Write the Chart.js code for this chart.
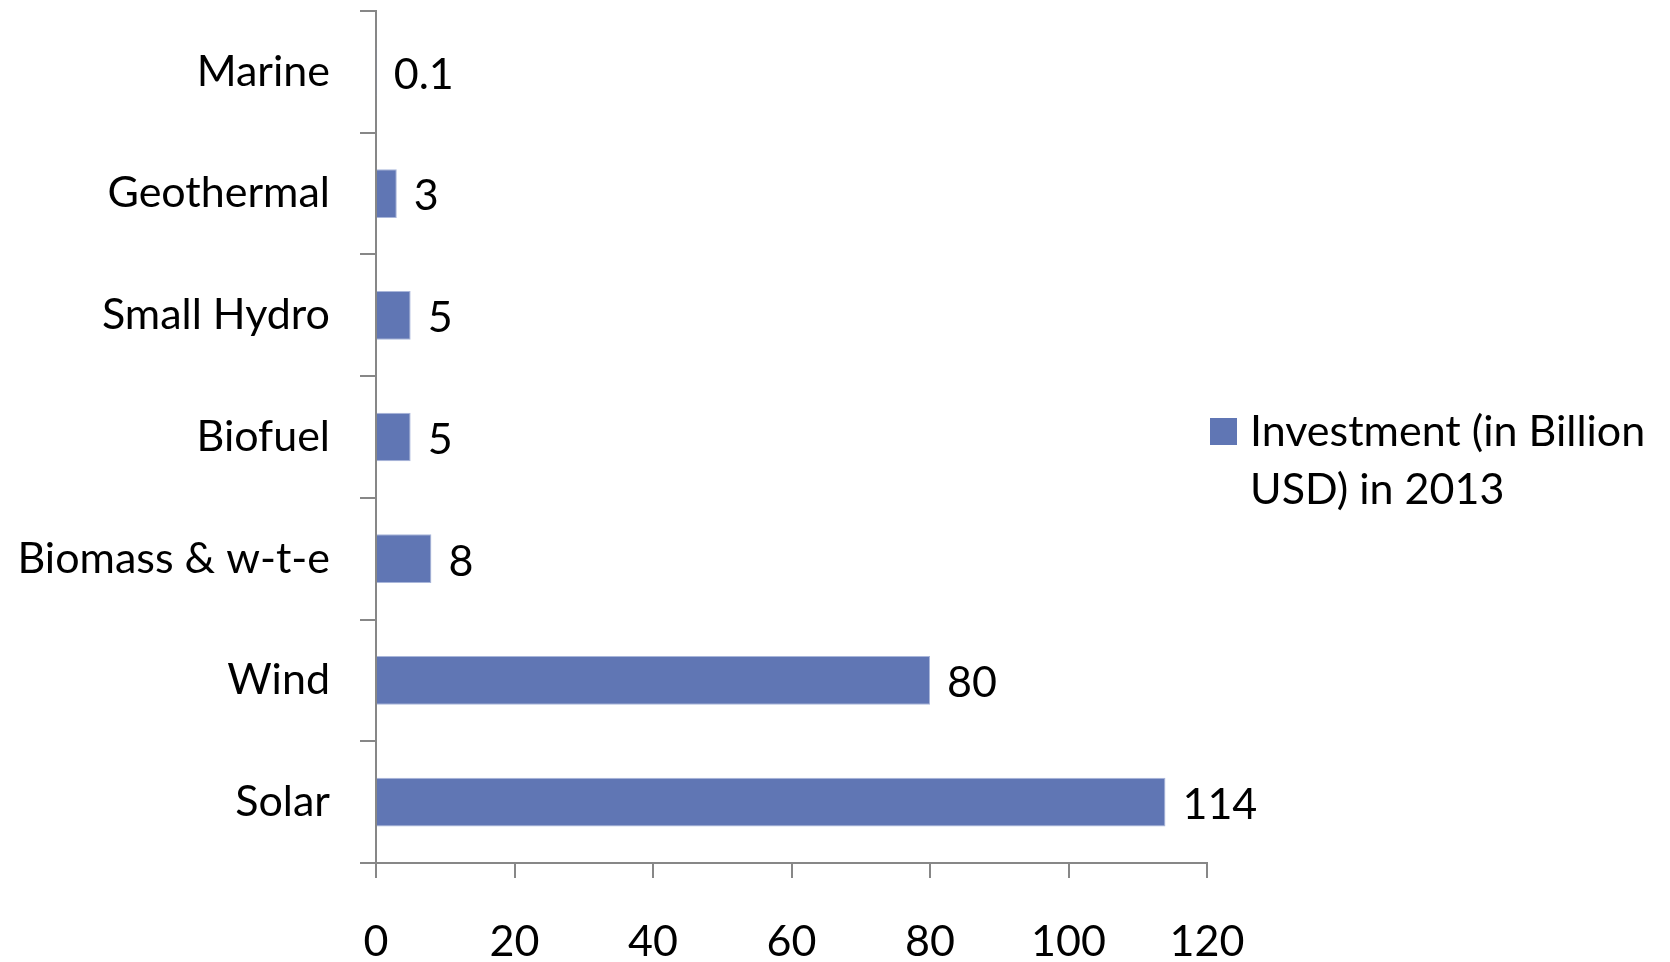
<!DOCTYPE html>
<html>
<head>
<meta charset="utf-8">
<script src="https://cdn.jsdelivr.net/npm/chart.js@4"></script>
<style>
  html, body { margin: 0; padding: 0; }
  body {
    width: 1670px; height: 962px; overflow: hidden; position: relative;
    background: radial-gradient(ellipse 95% 95% at 50% 45%, #ffffff 80%, #f0f0f0 100%);
    font-family: Lato, "Open Sans", sans-serif;
  }
  #wrap { position: absolute; left: 0; top: 0; width: 1670px; height: 962px; }
  #legend {
    position: absolute; left: 1210px; top: 401px; width: 460px;
    display: flex; align-items: flex-start; color: #000;
    font-size: 43px; line-height: 58px;
  }
  #legend .box { width: 27px; height: 27px; margin-top: 17px; margin-right: 13px; flex: none; }
</style>
</head>
<body>
<div id="wrap"><canvas id="chart" width="1670" height="962"></canvas></div>
<div id="legend"></div>
<script>
const categories = ["Marine", "Geothermal", "Small Hydro", "Biofuel", "Biomass & w-t-e", "Wind", "Solar"];
const investment = [0.1, 3, 5, 5, 8, 80, 114];
const seriesLabel = "Investment (in Billion USD) in 2013";
const xTicks = [0, 20, 40, 60, 80, 100, 120];

const barColor = "#6076b4";
const axisColor = "#878787";
const font = { family: "Lato, 'Open Sans', sans-serif", size: 43 };

// value labels at the end of each bar
const valueLabels = {
  id: "valueLabels",
  afterDatasetsDraw(chart) {
    const ctx = chart.ctx;
    const meta = chart.getDatasetMeta(0);
    ctx.save();
    ctx.font = `${font.size}px ${font.family}`;
    ctx.fillStyle = "#000";
    ctx.textAlign = "left";
    ctx.textBaseline = "middle";
    meta.data.forEach((bar, i) => {
      ctx.fillText(String(chart.data.datasets[0].data[i]), bar.x + 17, bar.y + 3);
    });
    ctx.restore();
  },
};

const chart = new Chart(document.getElementById("chart"), {
  type: "bar",
  data: {
    labels: categories,
    datasets: [
      {
        label: seriesLabel,
        data: investment,
        backgroundColor: barColor,
        borderColor: "#a9b6da",
        borderWidth: 1,
        borderSkipped: "left",
        categoryPercentage: 1,
        barPercentage: 0.4,
      },
    ],
  },
  options: {
    indexAxis: "y",
    responsive: false,
    animation: false,
    layout: { padding: { top: 11, right: 463, bottom: 0, left: 0 } },
    plugins: { legend: { display: false }, tooltip: { enabled: false } },
    scales: {
      x: {
        min: 0,
        max: 120,
        afterBuildTicks: (scale) => {
          scale.ticks = xTicks.map((v) => ({ value: v }));
        },
        afterFit: (scale) => {
          scale.height = 99;
          scale.paddingLeft = 0;
          scale.paddingRight = 0;
        },
        grid: { drawOnChartArea: false, drawTicks: true, tickLength: 15, color: axisColor, lineWidth: 2 },
        border: { color: axisColor, width: 2 },
        ticks: { color: "#000", font: font, padding: 38, maxRotation: 0 },
      },
      y: {
        afterFit: (scale) => {
          scale.width = 376;
          scale.paddingTop = 0;
          scale.paddingBottom = 0;
        },
        grid: { offset: true, drawOnChartArea: false, drawTicks: true, tickLength: 16, color: axisColor, lineWidth: 2 },
        border: { color: axisColor, width: 2 },
        ticks: { color: "#000", font: font, padding: 30 },
      },
    },
  },
  plugins: [valueLabels],
});

const legend = document.getElementById("legend");
chart.data.datasets.forEach((ds) => {
  legend.innerHTML = `<span class="box" style="background:${ds.backgroundColor}"></span><span>${ds.label}</span>`;
});
</script>
</body>
</html>
